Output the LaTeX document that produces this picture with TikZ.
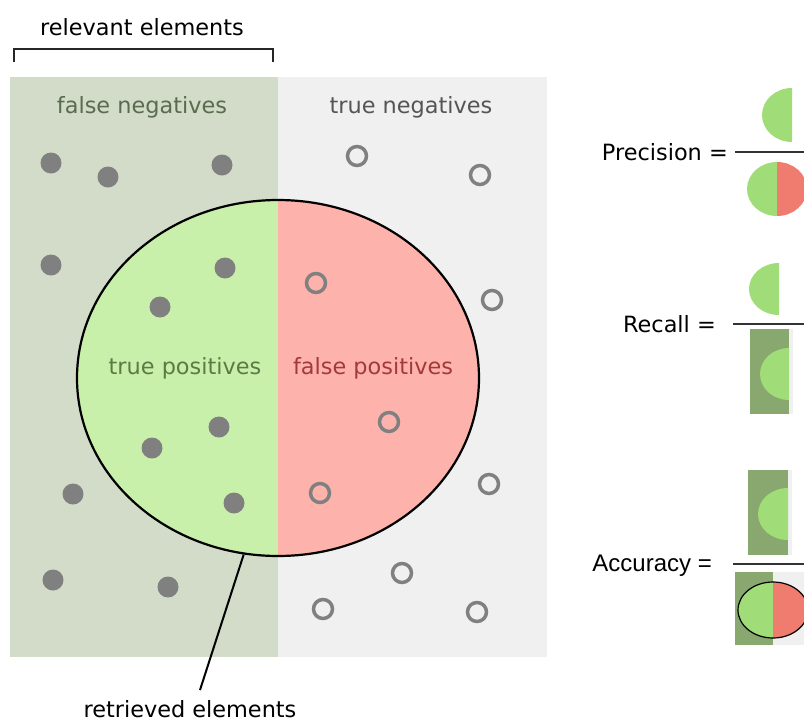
\documentclass[tikz,border=0pt]{standalone}
\usepackage{fontspec}
\setmainfont{DejaVu Sans}
\newfontfamily\arialfont{Liberation Sans}
\usetikzlibrary{shapes.geometric}
\definecolor{relbg}{HTML}{D2DCC8}
\definecolor{negbg}{HTML}{F0F0F0}
\definecolor{tpfill}{HTML}{C8F0AA}
\definecolor{fpfill}{HTML}{FDB3AB}
\definecolor{dotgray}{HTML}{808080}
\definecolor{fncol}{HTML}{5B6B50}
\definecolor{tncol}{HTML}{555555}
\definecolor{tpcol}{HTML}{5D7A45}
\definecolor{fpcol}{HTML}{A33A3A}
\definecolor{icgreen}{HTML}{A0DC78}
\definecolor{icred}{HTML}{F07C70}
\definecolor{icdark}{HTML}{88A870}
\begin{document}
\begin{tikzpicture}[x=1pt,y=-1pt,
  lbl/.style={font=\fontsize{22.4}{26}\selectfont, inner sep=0pt},
  dotfill/.style={fill=dotgray},
  ring/.style={draw=dotgray, line width=3.5pt},
  fracline/.style={draw=black!80, line width=1.2pt}]
\useasboundingbox (0,0) rectangle (804,724);
\fill[white] (0,0) rectangle (804,724);
% backgrounds
\fill[relbg] (10,77) rectangle (278,657);
\fill[negbg] (278,77) rectangle (547,657);
% retrieved ellipse halves
\begin{scope}
  \clip (0,0) rectangle (278,724);
  \fill[tpfill] (278,378) ellipse [x radius=201pt, y radius=178pt];
\end{scope}
\begin{scope}
  \clip (278,0) rectangle (600,724);
  \fill[fpfill] (278,378) ellipse [x radius=201pt, y radius=178pt];
\end{scope}
\node[ellipse, draw, line width=2.2pt, minimum width=402pt, minimum height=356pt, inner sep=0pt] (ret) at (278,378) {};
% bracket
\draw[line width=2pt, black!85] (14,62) -- (14,49) -- (273,49) -- (273,62);
\node[lbl] (relt) at (142,27) {relevant elements};
% labels
\node[lbl, text=fncol] (fn) at (142,107) {false negatives};
\node[lbl, text=tncol] (tn) at (411,107) {true negatives};
\node[lbl, text=tpcol] (tp) at (185,368) {true positives};
\node[lbl, text=fpcol] (fp) at (373,368) {false positives};
\node[lbl] (rett) at (190,709) {retrieved elements};
\coordinate (retend) at (200,690);
\draw[line width=2pt] (ret.-101) -- (retend);
% filled dots
\foreach \x/\y in {51/163,108/177,222/165,51/265,225/268,160/307,152/448,219/427,73/494,234/503,53/580,168/587}
  \fill[dotfill] (\x,\y) circle[radius=10.5pt];
% rings
\foreach \x/\y in {357/156,480/175,316/283,492/300,389/422,320/493,489/484,402/573,323/609,477/612}
  \draw[ring] (\x,\y) circle[radius=9.5pt];
% Precision
\node[lbl, anchor=east] (prec) at (728,152) {Precision =};
\coordinate (precend) at (804,152);
\draw[fracline] (prec.east) ++(7,0) -- (precend);
\fill[icgreen] (792,88) arc[start angle=90, end angle=270, x radius=30pt, y radius=27pt] -- cycle;
\fill[icgreen] (777,162) arc[start angle=90, end angle=270, x radius=30pt, y radius=27pt] -- cycle;
\fill[icred] (777,162) arc[start angle=90, end angle=-90, x radius=30pt, y radius=27pt] -- cycle;
% Recall
\node[lbl, anchor=east] (rec) at (716,324) {Recall =};
\coordinate (recend) at (804,324);
\draw[fracline] (733,324) -- (recend);
\fill[icgreen] (779,263) arc[start angle=90, end angle=270, x radius=30pt, y radius=26pt] -- cycle;
\fill[icdark] (750,329) rectangle (789,414);
\fill[negbg] (789,329) rectangle (793,414);
\fill[icgreen] (789,348) arc[start angle=90, end angle=270, x radius=29pt, y radius=26pt] -- cycle;
% Accuracy
\node[font=\arialfont\fontsize{24}{28}\selectfont, inner sep=0pt, anchor=east] (acc) at (712,566) {Accuracy =};
\coordinate (accend) at (804,564);
\draw[fracline] (733,564) -- (accend);
\fill[icdark] (748,470) rectangle (788,555);
\fill[negbg] (788,470) rectangle (792,555);
\fill[icgreen] (788,488) arc[start angle=90, end angle=270, x radius=30pt, y radius=26pt] -- cycle;
\fill[icdark] (735,572) rectangle (773,645);
\fill[negbg] (773,572) rectangle (804,645);
\begin{scope}
  \clip (700,560) rectangle (773,660);
  \fill[icgreen] (773,610) ellipse [x radius=35pt, y radius=28pt];
\end{scope}
\begin{scope}
  \clip (773,560) rectangle (820,660);
  \fill[icred] (773,610) ellipse [x radius=35pt, y radius=28pt];
\end{scope}
\node[ellipse, draw, line width=1.2pt, minimum width=70pt, minimum height=56pt, inner sep=0pt] (accell) at (773,610) {};
\end{tikzpicture}
\end{document}
